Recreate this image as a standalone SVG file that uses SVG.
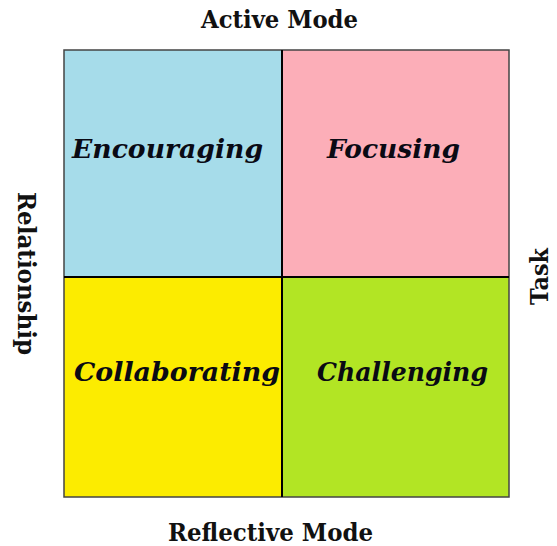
<svg xmlns="http://www.w3.org/2000/svg" width="557" height="546" viewBox="0 0 557 546">
  <style>
    .axis { font-family: "DejaVu Serif", "Liberation Serif", serif; font-weight: bold; font-size: 24px; fill: #111; }
    .quad { font-family: "DejaVu Serif", "Liberation Serif", serif; font-weight: bold; font-style: italic; font-size: 26px; fill: #0a0a14; }
    .cell { stroke: none; }
    .divider { stroke: #000; stroke-width: 2; }
    .frame { fill: none; stroke: #444; stroke-width: 1.5; }
  </style>
  <rect width="557" height="546" fill="#ffffff"/>

  <!-- quadrants -->
  <g id="encouraging">
    <rect class="cell" x="64" y="50" width="218" height="227" fill="#a6dcea"/>
    <text class="quad" x="72" y="158" textLength="191" lengthAdjust="spacingAndGlyphs">Encouraging</text>
  </g>
  <g id="focusing">
    <rect class="cell" x="282" y="50" width="227" height="227" fill="#fcaeb8"/>
    <text class="quad" x="327" y="158" textLength="133" lengthAdjust="spacingAndGlyphs">Focusing</text>
  </g>
  <g id="collaborating">
    <rect class="cell" x="64" y="277" width="218" height="220" fill="#fcec00"/>
    <text class="quad" x="74" y="381" textLength="206" lengthAdjust="spacingAndGlyphs">Collaborating</text>
  </g>
  <g id="challenging">
    <rect class="cell" x="282" y="277" width="227" height="220" fill="#b2e524"/>
    <text class="quad" x="317" y="381" textLength="171" lengthAdjust="spacingAndGlyphs">Challenging</text>
  </g>

  <!-- grid lines -->
  <g id="grid">
    <rect class="frame" x="64" y="50" width="445" height="447"/>
    <line class="divider" x1="282" y1="50" x2="282" y2="497"/>
    <line class="divider" x1="64" y1="277" x2="509" y2="277"/>
  </g>

  <!-- axis labels -->
  <g id="active-mode">
    <text class="axis" x="279.5" y="28" text-anchor="middle" textLength="157" lengthAdjust="spacingAndGlyphs">Active Mode</text>
  </g>
  <g id="reflective-mode">
    <text class="axis" x="270.5" y="541" text-anchor="middle" textLength="205" lengthAdjust="spacingAndGlyphs">Reflective Mode</text>
  </g>
  <g id="relationship">
    <text class="axis" transform="translate(18 273.5) rotate(90)" text-anchor="middle" textLength="163" lengthAdjust="spacingAndGlyphs">Relationship</text>
  </g>
  <g id="task">
    <text class="axis" transform="translate(548 276.5) rotate(-90)" text-anchor="middle" textLength="57" lengthAdjust="spacingAndGlyphs">Task</text>
  </g>
</svg>
